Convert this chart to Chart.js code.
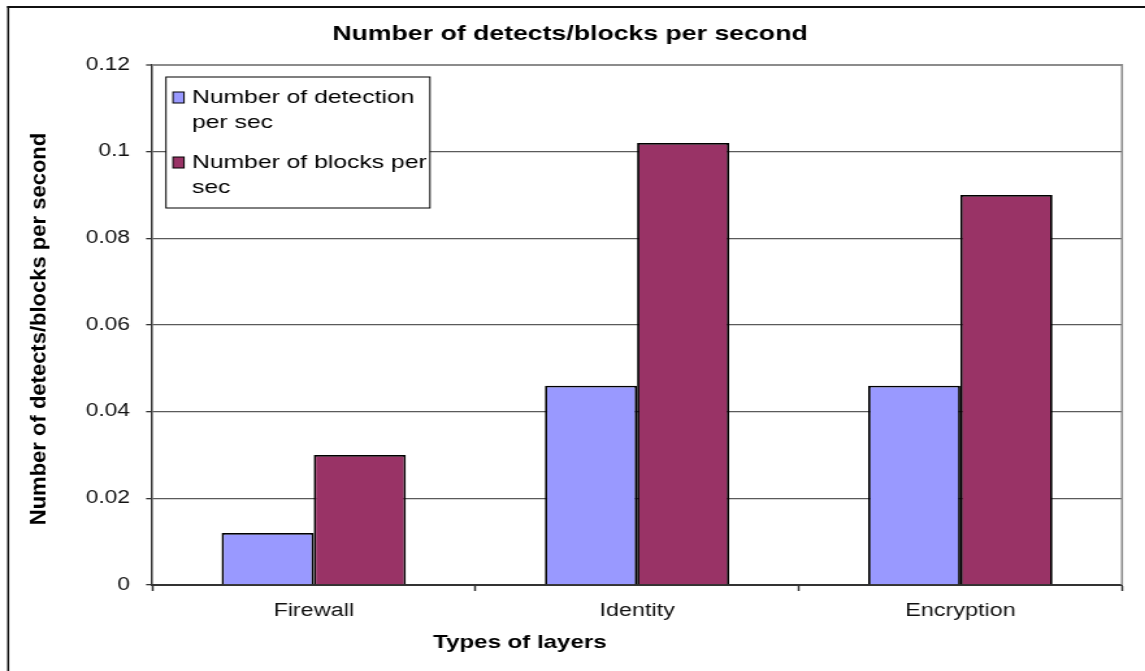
<!DOCTYPE html>
<html>
<head>
<meta charset="utf-8">
<script src="https://cdn.jsdelivr.net/npm/chart.js@4/dist/chart.umd.min.js"></script>
<style>
  html, body { margin: 0; padding: 0; background: #fff; overflow: hidden; }
  #wrap { width: 881px; height: 671px; transform: scaleX(1.29966); transform-origin: 0 0; }
  #c { display: block; width: 881px; height: 671px; }
</style>
</head>
<body>
<div id="wrap"><canvas id="c" width="881" height="671"></canvas></div>
<script>
// Horizontal text stretch of the page (canvas is drawn narrow and widened by CSS)
const STRETCH = 1145 / 881;

// Chart data
const layers = ['Firewall', 'Identity', 'Encryption'];
const detectionsPerSec = [0.012, 0.046, 0.046];
const blocksPerSec = [0.030, 0.102, 0.090];

// Legend text, already broken into lines
const detectionLabel = ['Number of detection', 'per sec'];
const blocksLabel = ['Number of blocks per', 'sec'];

// Value axis
const yMin = 0;
const yMax = 0.12;
const yStep = 0.02;

// Titles
const chartTitle = 'Number of detects/blocks per second';
const xTitle = 'Types of layers';
const yTitle = 'Number of detects/blocks per second';

const FONT = '"Liberation Sans", Arial, sans-serif';
Chart.defaults.font.family = FONT;

// Frame, titles and the boxed legend inside the plot
const decor = {
  id: 'decor',
  afterDraw(chart) {
    const { ctx, chartArea: a } = chart;
    ctx.save();

    // outer frame (top and left edges)
    ctx.strokeStyle = '#111';
    ctx.lineWidth = 2;
    ctx.beginPath(); ctx.moveTo(5.5, 7); ctx.lineTo(chart.width + 5, 7); ctx.stroke();
    ctx.lineWidth = 1.5;
    ctx.beginPath(); ctx.moveTo(6.3, 6); ctx.lineTo(6.3, chart.height + 5); ctx.stroke();

    // plot frame (top and right edges)
    ctx.strokeStyle = '#8c8c8c';
    ctx.lineWidth = 2;
    ctx.beginPath(); ctx.moveTo(a.left, a.top); ctx.lineTo(a.right, a.top); ctx.stroke();
    ctx.lineWidth = 1.6;
    ctx.beginPath(); ctx.moveTo(a.right, a.top - 1); ctx.lineTo(a.right, a.bottom); ctx.stroke();

    // chart title
    ctx.fillStyle = '#000';
    ctx.textAlign = 'center';
    ctx.textBaseline = 'middle';
    ctx.font = 'bold 20.5px ' + FONT;
    ctx.fillText(chartTitle, 438.6, 34);

    // x-axis title
    ctx.font = 'bold 18.5px ' + FONT;
    ctx.fillText(xTitle, 400, 643);

    // y-axis title (rotated; width compensated for the page stretch)
    ctx.save();
    ctx.translate(30.8, 329);
    ctx.scale(1 / STRETCH, 1);
    ctx.rotate(-Math.PI / 2);
    ctx.font = 'bold 22px ' + FONT;
    ctx.fillText(yTitle, 0, 0);
    ctx.restore();

    // legend box
    const bx = 127.7, by = 77, bw = 203.1, bh = 131;
    ctx.fillStyle = '#fff';
    ctx.fillRect(bx, by, bw, bh);
    ctx.strokeStyle = '#000';
    ctx.lineWidth = 1;
    ctx.strokeRect(bx, by, bw, bh);

    const items = [
      { lines: detectionLabel, color: chart.data.datasets[0].backgroundColor, top: 92 },
      { lines: blocksLabel, color: chart.data.datasets[1].backgroundColor, top: 157 }
    ];
    ctx.font = '19px ' + FONT;
    ctx.textAlign = 'left';
    ctx.textBaseline = 'middle';
    items.forEach(it => {
      ctx.fillStyle = it.color;
      ctx.fillRect(133.1, it.top, 8.5, 11);
      ctx.strokeStyle = '#000';
      ctx.lineWidth = 1;
      ctx.strokeRect(133.1, it.top, 8.5, 11);
      ctx.fillStyle = '#000';
      it.lines.forEach((ln, i) => ctx.fillText(ln, 147.7, it.top + 6 + i * 25));
    });

    ctx.restore();
  }
};

new Chart(document.getElementById('c'), {
  type: 'bar',
  data: {
    labels: layers,
    datasets: [
      {
        label: detectionLabel.join(' '),
        data: detectionsPerSec,
        backgroundColor: '#9999FF',
        borderColor: '#000',
        borderWidth: 1.8,
        categoryPercentage: 0.57,
        barPercentage: 1.0
      },
      {
        label: blocksLabel.join(' '),
        data: blocksPerSec,
        backgroundColor: '#993366',
        borderColor: '#000',
        borderWidth: 1.8,
        categoryPercentage: 0.57,
        barPercentage: 1.0
      }
    ]
  },
  options: {
    responsive: false,
    animation: false,
    devicePixelRatio: 1,
    layout: { padding: { top: 65, right: 17.7, bottom: 0, left: 0 } },
    plugins: {
      legend: { display: false },
      title: { display: false },
      tooltip: { enabled: false }
    },
    scales: {
      x: {
        type: 'category',
        afterFit: s => { s.height = 86; },
        ticks: {
          font: { size: 18 },
          color: '#111',
          padding: 9,
          maxRotation: 0,
          autoSkip: false
        },
        grid: {
          drawOnChartArea: false,
          drawTicks: true,
          tickLength: 6,
          tickColor: '#333',
          tickWidth: 1.5
        },
        border: { color: '#333', width: 2 }
      },
      y: {
        min: yMin,
        max: yMax,
        afterFit: s => { s.width = 117; },
        ticks: {
          stepSize: yStep,
          font: { size: 17.5 },
          color: '#111',
          padding: 12.4,
          callback: v => String(Number(v.toFixed(2)))
        },
        grid: {
          color: c => (c.tick && Math.abs(c.tick.value - yMax) < 1e-9) ? '#8c8c8c' : '#5a5a5a',
          lineWidth: c => (c.tick && Math.abs(c.tick.value - yMax) < 1e-9) ? 2 : 1.3,
          drawTicks: true,
          tickLength: 4.6,
          tickColor: '#333',
          tickWidth: 1.3
        },
        border: { color: '#333', width: 1.5 }
      }
    }
  },
  plugins: [decor]
});
</script>
</body>
</html>
